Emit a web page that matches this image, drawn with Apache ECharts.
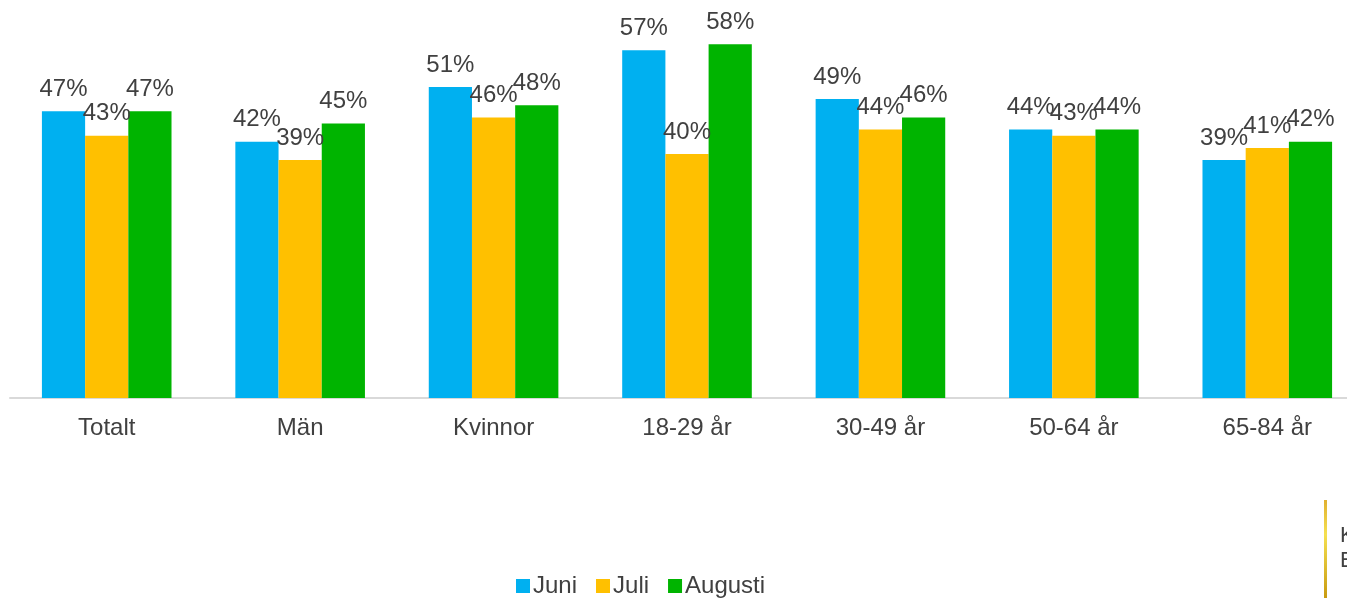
<!DOCTYPE html>
<html>
<head>
<meta charset="utf-8">
<script src="https://cdn.jsdelivr.net/npm/echarts@6/dist/echarts.min.js"></script>
<style>
  html, body { margin: 0; padding: 0; background: #fff; }
  #main { width: 1347px; height: 598px; }
</style>
</head>
<body>
<div id="main"></div>
<script>
const categories = ["Totalt", "Män", "Kvinnor", "18-29 år", "30-49 år", "50-64 år", "65-84 år"];
const juni = [47, 42, 51, 57, 49, 44, 39];
const juli = [43, 39, 46, 40, 44, 43, 41];
const augusti = [47, 45, 48, 58, 46, 44, 42];

const myChart = echarts.init(document.getElementById("main"));

const label = {
  show: true,
  position: "top",
  distance: 10,
  formatter: "{c}%",
  fontFamily: "Liberation Sans",
  fontSize: 24,
  color: "#404040",
};

const option = {
  animation: false,
  textStyle: { fontFamily: "Liberation Sans" },
  grid: { left: 10, right: -17, top: 32, bottom: 200, outerBoundsMode: "none", containLabel: false },
  legend: {
    bottom: -5,
    left: 511,
    itemWidth: 14,
    itemHeight: 14,
    itemGap: 19,
    icon: "rect",
    textStyle: { fontSize: 24, color: "#404040", padding: [0, 0, 0, -2] },
  },
  xAxis: {
    type: "category",
    data: categories,
    axisLine: { lineStyle: { color: "#d9d9d9", width: 2 } },
    axisTick: { show: false },
    axisLabel: { fontSize: 24, color: "#404040", margin: 18 },
  },
  yAxis: {
    type: "value",
    min: 0,
    max: 60,
    show: false,
  },
  series: [
    { name: "Juni", type: "bar", data: juni, barGap: "0%", barCategoryGap: "33%", itemStyle: { color: "#00b0f0" }, label },
    { name: "Juli", type: "bar", data: juli, itemStyle: { color: "#ffc000" }, label },
    { name: "Augusti", type: "bar", data: augusti, itemStyle: { color: "#00b400" }, label },
  ],
  graphic: [
    {
      type: "rect",
      shape: { x: 1324, y: 500, width: 3, height: 98 },
      style: {
        fill: new echarts.graphic.LinearGradient(0, 0, 0, 1, [
          { offset: 0, color: "#e0b030" },
          { offset: 0.35, color: "#f5e050" },
          { offset: 1, color: "#c89a10" },
        ]),
      },
    },
    {
      type: "text",
      style: { x: 1340, y: 523, text: "K\nE", font: "22px 'Liberation Sans'", fill: "#404040", lineHeight: 25 },
    },
  ],
};
myChart.setOption(option);
</script>
</body>
</html>
